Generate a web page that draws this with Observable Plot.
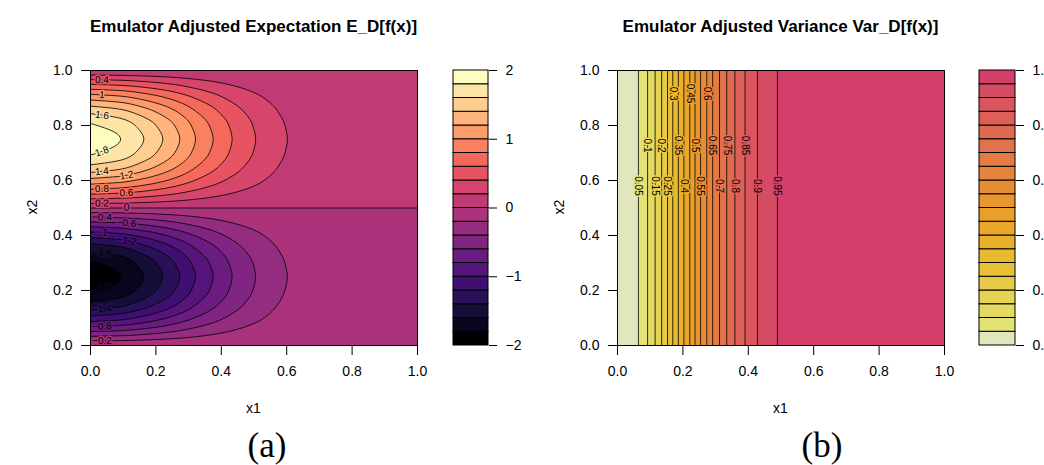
<!DOCTYPE html>
<html>
<head>
<meta charset="utf-8">
<script src="https://cdn.jsdelivr.net/npm/d3@7"></script>
<script src="https://cdn.jsdelivr.net/npm/@observablehq/plot@0.6"></script>
<style>
html, body { margin: 0; padding: 0; background: #fff; overflow: hidden; }
#root { position: relative; width: 1044px; height: 465px; font-family: "Liberation Sans", Arial, Helvetica, sans-serif; color: #000; }
#root > svg { position: absolute; }
.t { position: absolute; white-space: nowrap; text-align: center; }
.title { font-weight: bold; font-size: 17px; line-height: 17px; width: 500px; }
.alab { font-size: 14px; line-height: 14px; width: 40px; }
.cap { font-family: "Liberation Serif", "Times New Roman", serif; font-size: 35px; line-height: 35px; width: 100px; }
</style>
</head>
<body>
<div id="root"></div>
<script>
// ---------------- data ----------------
const axisTicks = [0, 0.2, 0.4, 0.6, 0.8, 1];

// Panel (a): adjusted expectation
const meanLevels = [-2, -1.8, -1.6, -1.4, -1.2, -1, -0.8, -0.6, -0.4, -0.2, 0, 0.2, 0.4, 0.6, 0.8, 1, 1.2, 1.4, 1.6, 1.8, 2];
const meanColorbarTicks = [-2, -1, 0, 1, 2];
// expectation along the ridge x2 = 0.75 (contour crossings)
const meanProfileX1 = [0, 0.092, 0.163, 0.221, 0.273, 0.321, 0.375, 0.433, 0.505, 0.602, 0.75, 1];
const meanProfileValue = [1.92, 1.8, 1.6, 1.4, 1.2, 1.0, 0.8, 0.6, 0.4, 0.2, 0.06, 0.01];
// relative shape across x2 (read at the left edge)
const meanShapeX2 = [0, 0.05, 0.1, 0.15, 0.2, 0.25, 0.3, 0.35, 0.4, 0.45, 0.5, 0.55, 0.6, 0.65, 0.7, 0.75, 0.8, 0.85, 0.9, 0.95, 1];
const meanShapeValue = [0, -0.31, -0.59, -0.81, -0.95, -1, -0.95, -0.81, -0.59, -0.31, 0, 0.31, 0.59, 0.81, 0.95, 1, 0.95, 0.81, 0.59, 0.31, 0];

// Panel (b): adjusted variance (depends on x1 only; contour crossings)
const varLevels = [0, 0.05, 0.1, 0.15, 0.2, 0.25, 0.3, 0.35, 0.4, 0.45, 0.5, 0.55, 0.6, 0.65, 0.7, 0.75, 0.8, 0.85, 0.9, 0.95, 1];
const varColorbarTicks = [0, 0.2, 0.4, 0.6, 0.8, 1];
const varProfileX1 = [0, 0.064, 0.092, 0.115, 0.135, 0.153, 0.169, 0.186, 0.203, 0.221, 0.237, 0.254, 0.273, 0.291, 0.312, 0.334, 0.359, 0.390, 0.428, 0.489, 0.7, 1];
const varProfileValue = [0, 0.05, 0.1, 0.15, 0.2, 0.25, 0.3, 0.35, 0.4, 0.45, 0.5, 0.55, 0.6, 0.65, 0.7, 0.75, 0.8, 0.85, 0.9, 0.95, 0.99, 0.995];

const titles = ["Emulator Adjusted Expectation E_D[f(x)]", "Emulator Adjusted Variance Var_D[f(x)]"];
const captions = ["(a)", "(b)"];
const xLabel = "x1", yLabel = "x2";

// ---------------- layout ----------------
const W = 440, H = 400, mL = 90, mR = 23, mT = 70, mB = 55;
const innerW = W - mL - mR, innerH = H - mT - mB;
const panelLeft = [0, 527];
const barLeft = [453, 979], barW = [35, 36], barRightMargin = [45, 29];
const titleCenter = [253.5, 780.5], captionCenter = [267, 822];
const labelFont = 10;

// ---------------- helpers ----------------
function monotone(xs, ys) {
  const n = xs.length, d = [], m = new Array(n);
  for (let i = 0; i < n - 1; i++) d.push((ys[i + 1] - ys[i]) / (xs[i + 1] - xs[i]));
  m[0] = d[0]; m[n - 1] = d[n - 2];
  for (let i = 1; i < n - 1; i++) {
    if (d[i - 1] * d[i] <= 0) m[i] = 0;
    else {
      const h0 = xs[i] - xs[i - 1], h1 = xs[i + 1] - xs[i];
      const w1 = 2 * h1 + h0, w2 = h1 + 2 * h0;
      m[i] = (w1 + w2) / (w1 / d[i - 1] + w2 / d[i]);
    }
  }
  return x => {
    if (x <= xs[0]) return ys[0];
    if (x >= xs[n - 1]) return ys[n - 1];
    const i = Math.min(n - 2, d3.bisectRight(xs, x) - 1);
    const h = xs[i + 1] - xs[i], t = (x - xs[i]) / h, t2 = t * t, t3 = t2 * t;
    return (2 * t3 - 3 * t2 + 1) * ys[i] + (t3 - 2 * t2 + t) * h * m[i] + (-2 * t3 + 3 * t2) * ys[i + 1] + (t3 - t2) * h * m[i + 1];
  };
}
function solve(f, lo, hi) {
  let a = lo, b = hi, fa = f(a), fb = f(b);
  if (fa * fb > 0) return null;
  for (let k = 0; k < 60; k++) {
    const c = (a + b) / 2, fc = f(c);
    if (fa * fc <= 0) { b = c; fb = fc; } else { a = c; fa = fc; }
  }
  return (a + b) / 2;
}
function polarLuvHex(L, C, H) {
  const h = H * Math.PI / 180, U = C * Math.cos(h), V = C * Math.sin(h);
  const Xn = 95.047, Yn = 100, Zn = 108.883;
  const Y = Yn * (L > 8 ? Math.pow((L + 16) / 116, 3) : L / 903.2963);
  const t = Xn + Yn + Zn, xw = Xn / t, yw = Yn / t;
  const un = 2 * xw / (6 * yw - xw + 1.5), vn = 4.5 * yw / (6 * yw - xw + 1.5);
  const u = U / (13 * L) + un, v = V / (13 * L) + vn;
  const X = 9 * Y * u / (4 * v), Z = -X / 3 - 5 * Y + 3 * Y / v;
  const lin = [3.240479 * X - 1.537150 * Y - 0.498535 * Z,
               -0.969256 * X + 1.875992 * Y + 0.041556 * Z,
               0.055648 * X - 0.204043 * Y + 1.057311 * Z].map(c => c / 100);
  const g = c => { c = Math.max(0, Math.min(1, c)); return c <= 0.0031308 ? 12.92 * c : 1.055 * Math.pow(c, 1 / 2.4) - 0.055; };
  const [r, gg, b] = lin.map(c => Math.round(255 * g(c)));
  return d3.rgb(r, gg, b).formatHex();
}
const signed = v => (v < 0 ? "\u2212" : "") + Math.abs(v);

// ---------------- fields ----------------
const meanX1 = monotone(meanProfileX1, meanProfileValue);
const meanX2 = monotone(meanShapeX2, meanShapeValue);
const meanAt = (x1, x2) => meanX1(x1) * meanX2(x2);
const varX1 = monotone(varProfileX1, varProfileValue);
const varAt = (x1, x2) => varX1(x1);

// ---------------- colours ----------------
const nMean = meanLevels.length - 1, nVar = varLevels.length - 1;
const meanColors = d3.range(nMean).map(k => d3.interpolateMagma(k / (nMean - 1)));
const varColors = d3.range(nVar).map(k => {
  const i = k / (nVar - 1);
  return polarLuvHex(90 - 40 * i, 30 + 70 * Math.pow(i, 0.2), 90 - 90 * i);
});
const meanColor = {type: "threshold", domain: meanLevels.slice(1, -1), range: meanColors};
const varColor = {type: "threshold", domain: varLevels.slice(1, -1), range: varColors};

// ---------------- contour labels (greedy, non-overlapping placement) ----------------
const meanLabelCandidatesX1 = [0.035, 0.11, 0.16, 0.23, 0.3];
const meanLabels = [];
{
  const placed = [];
  const fits = (px, py, w) => placed.every(p => Math.abs(p.px - px) > (p.w + w) / 2 + 1 || Math.abs(p.py - py) > 13);
  const angleAt = (x1, x2) => {
    const e = 1e-4;
    const gx = (meanAt(x1 + e, x2) - meanAt(x1 - e, x2)) / (2 * e) / innerW;
    const gy = -(meanAt(x1, x2 + e) - meanAt(x1, x2 - e)) / (2 * e) / innerH;
    let a = Math.atan2(gx, -gy) * 180 / Math.PI;
    if (a > 90) a -= 180;
    if (a < -90) a += 180;
    return a;
  };
  const order = [];
  for (const L of meanLevels) if (L > 0 && L < meanLevels[meanLevels.length - 1]) order.push(L, -L);
  for (const L of order) {
    const text = signed(L), w = text.length * 5.5 + 1;
    const branches = L > 0 ? [[0.5, 0.75], [0.75, 1]] : [[0.25, 0.5], [0, 0.25]];
    let done = false;
    for (const x1 of meanLabelCandidatesX1) {
      for (const [lo, hi] of branches) {
        const x2 = solve(x2 => meanAt(x1, x2) - L, lo, hi);
        if (x2 == null) continue;
        const px = x1 * innerW, py = (1 - x2) * innerH;
        if (fits(px, py, w)) {
          placed.push({px, py, w});
          meanLabels.push({x: x1, y: x2, text, level: L, angle: angleAt(x1, x2)});
          done = true; break;
        }
      }
      if (done) break;
    }
  }
  // the zero contour along the middle
  const x2z = solve(x2 => meanAt(0.5, x2), 0.3, 0.7);
  for (const x1 of meanLabelCandidatesX1) {
    const px = x1 * innerW, py = (1 - x2z) * innerH;
    if (fits(px, py, 7)) { placed.push({px, py, w: 7}); meanLabels.push({x: x1, y: x2z, text: "0", level: 0, angle: 0}); break; }
  }
}

const varLabelRowsX2 = [0.58, 0.727, 0.916];
const varLabels = [];
{
  const last = varLabelRowsX2.map(() => -Infinity);
  for (const L of varLevels.slice(1, -1)) {
    const x1 = solve(x => varAt(x, 0) - L, 0, 1);
    if (x1 == null) continue;
    const px = x1 * innerW;
    for (let r = 0; r < varLabelRowsX2.length; r++) {
      if (px - last[r] > 12.2) {
        last[r] = px;
        varLabels.push({x: x1, y: varLabelRowsX2[r], text: String(L), level: L, angle: 90});
        break;
      }
    }
  }
}

// ---------------- plots ----------------
const baseStyle = {fontFamily: '"Liberation Sans", Arial, Helvetica, sans-serif', fontSize: "14px", color: "black", background: "transparent"};

function panel(field, levels, colorOpts, lowColor, labels) {
  return Plot.plot({
    width: W, height: H, marginLeft: mL, marginRight: mR, marginTop: mT, marginBottom: mB,
    x: {domain: [0, 1]}, y: {domain: [0, 1]},
    color: colorOpts,
    style: baseStyle,
    marks: [
      Plot.frame({fill: lowColor}),
      Plot.contour({fill: field, x1: 0, y1: 0, x2: 1, y2: 1, thresholds: levels, pixelSize: 1, stroke: "black", strokeWidth: 0.8}),
      Plot.text(labels, {x: "x", y: "y", text: "text", rotate: "angle", fill: "black", stroke: "level", strokeWidth: 3, paintOrder: "stroke", fontSize: labelFont}),
      Plot.frame({stroke: "black"}),
      Plot.axisX({ticks: axisTicks, tickFormat: d3.format(".1f"), tickSize: 10, tickPadding: 11, label: null}),
      Plot.axisY({ticks: axisTicks, tickFormat: d3.format(".1f"), tickSize: 9, tickPadding: 9, label: null})
    ]
  });
}

function colorbar(levels, colorOpts, ticks, fmt, bw, mr) {
  const bands = levels.slice(0, -1).map((lo, i) => ({lo, hi: levels[i + 1]}));
  return Plot.plot({
    width: 2 + bw + mr, height: H, marginLeft: 2, marginRight: mr, marginTop: mT, marginBottom: mB,
    y: {domain: [levels[0], levels[levels.length - 1]]},
    color: colorOpts,
    style: baseStyle,
    marks: [
      Plot.rect(bands, {y1: "lo", y2: "hi", fill: "lo", stroke: "black", strokeWidth: 1}),
      Plot.axisY({anchor: "right", ticks, tickFormat: fmt, tickSize: 8, tickPadding: 9, label: null})
    ]
  });
}

const root = document.getElementById("root");
const place = (el, left, top) => { el.style.left = left + "px"; el.style.top = top + "px"; root.appendChild(el); };

place(panel(meanAt, meanLevels, meanColor, meanColors[0], meanLabels), panelLeft[0], 0);
place(colorbar(meanLevels, meanColor, meanColorbarTicks, signed, barW[0], barRightMargin[0]), barLeft[0] - 2, 0);
place(panel(varAt, varLevels, varColor, varColors[0], varLabels), panelLeft[1], 0);
place(colorbar(varLevels, varColor, varColorbarTicks, d3.format(".1f"), barW[1], barRightMargin[1]), barLeft[1] - 2, 0);

function addText(cls, text, cx, top, w, rotate) {
  const d = document.createElement("div");
  d.className = "t " + cls;
  d.textContent = text;
  d.style.left = (cx - w / 2) + "px";
  d.style.top = top + "px";
  if (rotate) d.style.transform = "rotate(-90deg)";
  root.appendChild(d);
}
for (let p = 0; p < 2; p++) {
  addText("title", titles[p], titleCenter[p], 17.8, 500);
  addText("alab", xLabel, titleCenter[p], 401, 40);
  addText("alab", yLabel, panelLeft[p] + 31.5, 200, 40, true);
  addText("cap", captions[p], captionCenter[p], 427.7, 100);
}
</script>
</body>
</html>
